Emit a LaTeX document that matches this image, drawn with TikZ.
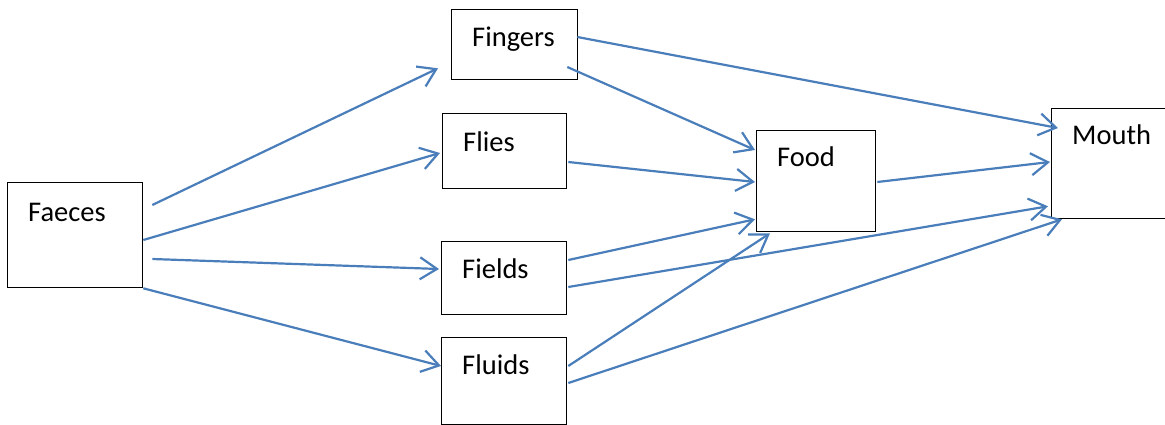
\documentclass[tikz,border=0pt]{standalone}
\usepackage{fontspec}
\setmainfont{Carlito}
\usetikzlibrary{arrows.meta,calc}
\definecolor{flowblue}{RGB}{74,126,187}
\begin{document}
\begin{tikzpicture}[x=1pt,y=-1pt,
  box/.style={draw=black,line width=1.3pt,anchor=north west,inner sep=0pt},
  lbl/.style={anchor=base west,inner sep=0pt,font=\fontsize{28.5}{34}\selectfont},
  flow/.style={draw=flowblue,line width=2.2pt,-{Straight Barb[length=17pt,width=22pt]}}]
\useasboundingbox (0,0) rectangle (1165,425);

% boxes
\node[box,minimum width=135pt,minimum height=105pt] (faeces)  at (7,182)   {};
\node[box,minimum width=126pt,minimum height=70pt]  (fingers) at (451,9)   {};
\node[box,minimum width=124pt,minimum height=75pt]  (flies)   at (442,113) {};
\node[box,minimum width=125pt,minimum height=73pt]  (fields)  at (441,241) {};
\node[box,minimum width=125pt,minimum height=87pt]  (fluids)  at (441,337) {};
\node[box,minimum width=119pt,minimum height=101pt] (food)    at (756,130) {};
\node[box,minimum width=130pt,minimum height=110pt] (mouth)   at (1051,108) {};

% labels
\node[lbl] (tfaeces)  at (28,221)   {Faeces};
\node[lbl] (tfingers) at (472,47)   {Fingers};
\node[lbl] (tflies)   at (463,152)  {Flies};
\node[lbl] (tfields)  at (462,278)  {Fields};
\node[lbl] (tfluids)  at (462,374)  {Fluids};
\node[lbl] (tfood)    at (777,167)  {Food};
\node[lbl] (tmouth)   at (1072,145) {Mouth};

% transmission routes
\draw[flow] ($(faeces.north east)+(9,23)$) -- ($(fingers.south west)+(-13,-12)$);
\draw[flow] ($(faeces.north east)+(0,58)$) -- ($(flies.north west)+(-2,40)$);
\draw[flow] ($(faeces.north east)+(9,77)$) -- ($(fields.north west)+(-2,28)$);
\draw[flow] (faeces.south east) -- ($(fluids.north west)+(0,29)$);

\draw[flow] ($(fingers.north east)+(-1,28)$) -- ($(mouth.north west)+(7,20)$);
\draw[flow] ($(fingers.north east)+(-11,58)$) -- ($(food.north west)+(-1,20)$);
\draw[flow] ($(flies.north east)+(1,49)$) -- ($(food.north west)+(-1,52)$);
\draw[flow] ($(fields.north east)+(1,19)$) -- ($(food.south west)+(-1,-13)$);
\draw[flow] ($(fields.north east)+(1,46)$) -- ($(mouth.south west)+(-3,-13)$);
\draw[flow] ($(fluids.north east)+(1,29)$) -- ($(food.south west)+(14,1)$);
\draw[flow] ($(fluids.north east)+(1,46)$) -- ($(mouth.south west)+(11,0)$);
\draw[flow] ($(food.north east)+(1,52)$) -- ($(mouth.north west)+(-1,54)$);
\end{tikzpicture}
\end{document}
